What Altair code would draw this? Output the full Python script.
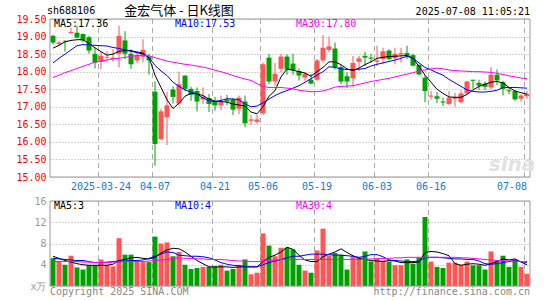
import altair as alt
import pandas as pd

# ---------------- data ----------------
dates = [
    "2025-03-12", "2025-03-13", "2025-03-14", "2025-03-17", "2025-03-18", "2025-03-19", "2025-03-20", "2025-03-21",
    "2025-03-24", "2025-03-25", "2025-03-26", "2025-03-27", "2025-03-28", "2025-03-31",
    "2025-04-01", "2025-04-02", "2025-04-03", "2025-04-07", "2025-04-08", "2025-04-09", "2025-04-10", "2025-04-11",
    "2025-04-14", "2025-04-15", "2025-04-16", "2025-04-17", "2025-04-18", "2025-04-21", "2025-04-22", "2025-04-23",
    "2025-04-24", "2025-04-25", "2025-04-28", "2025-04-29", "2025-04-30",
    "2025-05-06", "2025-05-07", "2025-05-08", "2025-05-09", "2025-05-12", "2025-05-13", "2025-05-14", "2025-05-15",
    "2025-05-16", "2025-05-19", "2025-05-20", "2025-05-21", "2025-05-22", "2025-05-23", "2025-05-26", "2025-05-27",
    "2025-05-28", "2025-05-29", "2025-05-30",
    "2025-06-03", "2025-06-04", "2025-06-05", "2025-06-06", "2025-06-09", "2025-06-10", "2025-06-11", "2025-06-12",
    "2025-06-13", "2025-06-16", "2025-06-17", "2025-06-18", "2025-06-19", "2025-06-20", "2025-06-23", "2025-06-24",
    "2025-06-25", "2025-06-26", "2025-06-27", "2025-06-30",
    "2025-07-01", "2025-07-02", "2025-07-03", "2025-07-04", "2025-07-07", "2025-07-08",
]

opens = [19.02, 18.79, 18.88, 19.10, 19.11, 19.07, 18.98, 18.51, 18.28, 18.40,
         18.36, 18.51, 18.89, 18.51, 18.32, 18.42, 18.42, 17.43, 16.08, 16.70,
         17.49, 17.09, 17.89, 17.51, 17.45, 17.21, 17.25, 17.15, 17.04, 17.21,
         17.21, 16.94, 17.15, 16.60, 16.57, 16.81, 18.40, 17.72, 18.08, 18.43,
         18.23, 18.02, 17.83, 17.77, 17.77, 18.32, 18.62, 18.66, 18.13, 17.87,
         17.81, 18.28, 18.45, 18.40, 18.28, 18.36, 18.60, 18.38, 18.49, 18.53,
         18.47, 18.19, 17.83, 17.29, 17.30, 17.15, 17.08, 17.23, 17.13, 17.38,
         17.77, 17.68, 17.66, 17.55, 17.91, 17.70, 17.47, 17.45, 17.23, 17.30]
highs = [19.05, 18.88, 18.89, 19.25, 19.30, 19.09, 19.02, 18.68, 18.58, 18.58,
         18.64, 19.31, 19.15, 18.64, 18.58, 18.92, 18.51, 17.72, 16.94, 17.43,
         17.58, 18.00, 17.89, 17.57, 17.55, 17.55, 17.36, 17.28, 17.32, 17.34,
         17.25, 17.32, 17.32, 16.77, 16.77, 18.26, 18.51, 18.25, 18.51, 18.49,
         18.51, 18.09, 17.98, 17.94, 18.36, 19.04, 19.00, 18.83, 18.19, 17.98,
         18.45, 18.45, 18.57, 18.51, 18.74, 18.68, 18.64, 18.68, 18.68, 18.74,
         18.51, 18.21, 17.89, 17.45, 17.42, 17.26, 17.45, 17.40, 17.47, 17.74,
         17.77, 17.77, 17.72, 18.13, 18.06, 17.74, 17.55, 17.47, 17.36, 17.45]
lows = [18.78, 18.74, 18.57, 19.08, 18.95, 18.83, 18.51, 18.09, 18.06, 18.32,
        18.28, 18.12, 18.36, 18.08, 18.25, 18.26, 17.92, 15.32, 16.05, 15.91,
        17.09, 17.04, 17.45, 17.17, 16.87, 17.08, 16.85, 16.89, 16.91, 17.04,
        16.77, 16.79, 16.42, 16.49, 16.51, 16.77, 17.64, 17.60, 17.98, 17.91,
        17.91, 17.75, 17.74, 17.64, 17.74, 18.26, 18.55, 18.06, 17.64, 17.53,
        17.57, 18.02, 18.17, 18.26, 18.17, 18.21, 18.32, 18.21, 18.26, 18.36,
        18.15, 17.90, 17.13, 17.21, 17.11, 17.02, 17.04, 17.00, 17.09, 17.36,
        17.51, 17.49, 17.47, 17.51, 17.62, 17.32, 17.36, 17.17, 17.15, 17.23]
closes = [18.83, 18.83, 18.86, 19.13, 18.97, 18.89, 18.60, 18.26, 18.45, 18.42,
          18.40, 19.02, 18.51, 18.21, 18.47, 18.62, 18.32, 15.94, 16.87, 17.04,
          17.28, 17.64, 17.51, 17.34, 17.15, 17.28, 17.08, 17.04, 17.13, 17.15,
          16.92, 17.26, 16.53, 16.64, 16.64, 18.21, 17.72, 17.94, 18.43, 18.06,
          18.04, 17.89, 17.94, 17.66, 18.32, 18.68, 18.72, 18.13, 17.72, 17.72,
          18.25, 18.38, 18.40, 18.37, 18.32, 18.58, 18.36, 18.51, 18.53, 18.45,
          18.17, 17.92, 17.45, 17.32, 17.23, 17.12, 17.26, 17.28, 17.38, 17.72,
          17.74, 17.60, 17.57, 17.91, 17.75, 17.51, 17.44, 17.21, 17.32, 17.36]

ma5 = [18.67, 18.75, 18.85, 18.89, 18.91, 18.91, 18.80, 18.68, 18.57, 18.47,
       18.50, 18.58, 18.60, 18.60, 18.56, 18.53, 18.40, 17.90, 17.55, 17.20,
       16.95, 17.10, 17.30, 17.38, 17.37, 17.32, 17.22, 17.16, 17.15, 17.13,
       17.08, 17.05, 17.02, 16.85, 16.80, 17.00, 17.30, 17.46, 17.85, 18.08,
       18.04, 18.00, 17.96, 17.87, 18.00, 18.12, 18.28, 18.28, 18.20, 18.08,
       18.03, 18.10, 18.20, 18.28, 18.38, 18.41, 18.43, 18.44, 18.45, 18.46,
       18.38, 18.15, 17.90, 17.70, 17.50, 17.38, 17.28, 17.27, 17.27, 17.35,
       17.48, 17.58, 17.64, 17.70, 17.72, 17.68, 17.55, 17.45, 17.40, 17.36]
ma10 = [18.25, 18.38, 18.50, 18.62, 18.74, 18.77, 18.76, 18.75, 18.74, 18.73,
        18.69, 18.66, 18.62, 18.58, 18.54, 18.50, 18.40, 18.18, 18.02, 17.89,
        17.70, 17.58, 17.48, 17.42, 17.37, 17.25, 17.17, 17.15, 17.18, 17.23,
        17.22, 17.20, 17.08, 17.00, 17.02, 17.11, 17.22, 17.32, 17.40, 17.46,
        17.53, 17.60, 17.70, 17.80, 17.90, 18.00, 18.14, 18.12, 18.08, 18.06,
        18.06, 18.07, 18.09, 18.16, 18.21, 18.25, 18.29, 18.33, 18.38, 18.44,
        18.38, 18.25, 18.12, 18.05, 17.97, 17.90, 17.78, 17.68, 17.58, 17.48,
        17.44, 17.42, 17.42, 17.44, 17.47, 17.55, 17.55, 17.55, 17.54, 17.53]
ma30 = [17.83, 17.90, 17.97, 18.03, 18.09, 18.15, 18.21, 18.27, 18.30, 18.33,
        18.36, 18.38, 18.41, 18.43, 18.46, 18.47, 18.45, 18.40, 18.35, 18.30,
        18.27, 18.24, 18.21, 18.19, 18.16, 18.13, 18.09, 18.04, 18.00, 17.95,
        17.89, 17.84, 17.79, 17.75, 17.66, 17.58, 17.55, 17.55, 17.55, 17.53,
        17.51, 17.47, 17.45, 17.43, 17.43, 17.45, 17.50, 17.56, 17.58, 17.59,
        17.60, 17.64, 17.68, 17.72, 17.75, 17.78, 17.81, 17.85, 17.89, 17.93,
        17.97, 18.02, 18.05, 18.08, 18.10, 18.08, 18.05, 18.03, 18.02, 18.01,
        18.00, 18.00, 17.99, 17.98, 17.95, 17.92, 17.88, 17.85, 17.82, 17.80]

volumes = [5.2, 4.6, 4.0, 5.7, 3.5, 3.1, 3.9, 3.9, 5.0, 4.0,
           3.7, 9.0, 5.9, 5.9, 4.6, 4.5, 4.5, 9.3, 8.0, 8.2,
           5.6, 6.4, 4.0, 3.2, 3.4, 3.6, 3.6, 3.7, 4.0, 2.9,
           3.2, 4.0, 5.0, 2.2, 2.5, 9.9, 7.6, 5.6, 7.2, 7.2,
           6.9, 4.0, 2.9, 2.5, 6.7, 10.8, 5.7, 6.2, 5.9, 3.1,
           5.6, 5.4, 6.5, 4.6, 5.2, 4.8, 4.6, 3.9, 3.9, 5.0,
           4.2, 5.4, 13.0, 4.6, 3.6, 3.4, 4.4, 4.4, 4.0, 4.6,
           3.9, 3.9, 3.1, 6.5, 4.8, 5.7, 3.6, 5.0, 3.6, 2.3]
vma5 = [5.6, 5.2, 4.8, 4.5, 4.2, 4.0, 3.9, 3.9, 3.9, 3.9,
        4.1, 4.8, 5.0, 5.3, 5.4, 5.2, 5.1, 5.4, 6.2, 6.8,
        7.1, 7.0, 6.4, 5.6, 4.8, 4.2, 3.6, 3.6, 3.6, 3.6,
        3.5, 3.6, 3.6, 3.6, 3.6, 4.6, 5.4, 5.8, 6.4, 7.3,
        6.9, 5.8, 4.9, 4.6, 4.6, 5.5, 6.0, 6.4, 7.0, 6.3,
        5.7, 5.2, 5.0, 4.8, 4.7, 4.6, 4.8, 4.7, 4.4, 4.4,
        4.4, 4.5, 6.3, 6.5, 6.4, 6.1, 5.7, 4.2, 3.9, 4.1,
        4.2, 4.1, 3.9, 4.2, 4.6, 5.1, 4.9, 5.1, 4.5, 4.0]
vma10 = [5.2, 5.1, 5.0, 4.9, 4.8, 4.8, 4.6, 4.4, 4.4, 4.5,
         4.6, 4.7, 4.7, 4.8, 4.8, 4.9, 5.2, 5.6, 6.0, 6.4,
         6.3, 5.8, 5.7, 5.6, 5.6, 5.5, 5.3, 4.9, 4.4, 4.1,
         3.9, 3.8, 3.7, 3.6, 3.6, 4.0, 4.4, 4.7, 5.0, 5.3,
         5.6, 5.6, 5.8, 6.0, 6.0, 6.0, 5.9, 5.8, 5.8, 5.7,
         5.6, 5.4, 5.6, 5.9, 5.9, 5.5, 4.9, 4.8, 4.7, 4.6,
         4.6, 4.7, 5.3, 5.4, 5.4, 5.3, 5.2, 5.1, 5.1, 5.0,
         5.0, 4.7, 4.2, 4.1, 4.2, 4.4, 4.6, 4.8, 4.6, 4.4]
vma30 = [4.6, 4.6, 4.6, 4.6, 4.6, 4.5, 4.5, 4.4, 4.4, 4.4,
         4.5, 4.5, 4.6, 4.6, 4.6, 4.6, 4.7, 4.8, 4.9, 5.0,
         5.2, 5.3, 5.2, 5.2, 5.1, 5.1, 5.0, 5.0, 5.0, 4.9,
         4.8, 4.7, 4.7, 4.6, 4.6, 4.7, 4.8, 4.9, 5.0, 5.0,
         5.0, 5.0, 5.0, 5.0, 5.0, 5.0, 5.0, 5.0, 5.0, 5.0,
         5.0, 5.0, 5.0, 5.1, 5.1, 5.2, 5.2, 5.3, 5.3, 5.4,
         5.4, 5.4, 5.4, 5.4, 5.4, 5.4, 5.4, 5.4, 5.3, 5.3,
         5.2, 5.1, 5.0, 4.9, 4.8, 4.8, 4.7, 4.7, 4.6, 4.6]

tick_dates = ["2025-03-24", "2025-04-07", "2025-04-21", "2025-05-06",
              "2025-05-19", "2025-06-03", "2025-06-16", "2025-07-08"]
tick_labels = ["2025-03-24", "04-07", "04-21", "05-06", "05-19", "06-03", "06-16", "07-08"]
price_ticks = [15.0, 15.5, 16.0, 16.5, 17.0, 17.5, 18.0, 18.5, 19.0, 19.5]
vol_ticks = [0, 4, 8, 12, 16]
price_domain = [15.0, 19.5]
vol_domain = [0, 16]

symbol = "sh688106"
title_text = "金宏气体 - 日K线图"
timestamp = "2025-07-08 11:05:21"
ma_labels = ["MA5:17.36", "MA10:17.53", "MA30:17.80"]
vma_labels = ["MA5:3", "MA10:4", "MA30:4"]
vol_unit = "x万"
copyright_text = "Copyright 2025 SINA.COM"
url_text = "http://finance.sina.com.cn"
watermark = "sina"

# ---------------- styling ----------------
RED = "#ff5555"
GREEN = "#00a000"
BLUE_LINE = "#0000ff"
MAGENTA = "#ff00ff"
GRID = "#aaaaaa"
FRAME = "#999999"
MONO = "DejaVu Sans Mono"
CJK = "Noto Sans CJK SC"
W, H = 480, 267
PRICE_RANGE = [158, 0]
VOL_RANGE = [267, 182]

df = pd.DataFrame({
    "date": dates, "open": opens, "high": highs, "low": lows, "close": closes,
    "vol": volumes, "ma5": ma5, "ma10": ma10, "ma30": ma30,
    "vma5": vma5, "vma10": vma10, "vma30": vma30,
})
df["dir"] = ["up" if c >= o else "down" for o, c in zip(opens, closes)]

xs = alt.Scale(domain=dates, paddingInner=1 / 6, paddingOuter=1 / 12)
label_expr = ("[" + ",".join(f"'{l}'" for l in tick_labels) + "][indexof(["
              + ",".join(f"'{d}'" for d in tick_dates) + "], datum.value)]")
last_tick = tick_dates[-1]
x_axis = alt.Axis(values=tick_dates, labelExpr=label_expr, orient="bottom", offset=-(H - PRICE_RANGE[0]),
                  domain=False, ticks=False, tickSize=0, labelPadding=4, labelFont=MONO, labelFontSize=10,
                  labelColor="#1478d2", labelAngle=0, title=None, grid=False, bandPosition=0,
                  labelOverlap=False, labelFlush=False,
                  labelAlign={"condition": {"test": f"datum.value == '{last_tick}'", "value": "right"},
                              "value": "center"})
X = alt.X("date:O", scale=xs, axis=x_axis)
Xedge = alt.X("date:O", scale=xs, axis=x_axis, bandPosition=0)

PS = alt.Scale(domain=price_domain, range=PRICE_RANGE, nice=False, zero=False)
VS = alt.Scale(domain=vol_domain, range=VOL_RANGE, nice=False, zero=True)

color = alt.Color("dir:N", scale=alt.Scale(domain=["up", "down"], range=[RED, GREEN]), legend=None)

price_axis = alt.Axis(values=price_ticks, format=".2f", orient="left", grid=True, gridColor=GRID,
                      gridDash=[1, 2], gridWidth=1, domain=False, ticks=False, tickSize=0, labelPadding=4,
                      labelColor="#ff0000", labelFont=MONO, labelFontSize=10, labelFlush=False,
                      labelOverlap=False, title=None)
vol_axis = alt.Axis(values=vol_ticks, orient="left", grid=True, gridColor=GRID, gridDash=[1, 2], gridWidth=1,
                    domain=False, ticks=False, tickSize=0, labelPadding=4, labelColor="#999999",
                    labelFont=MONO, labelFontSize=10, labelFlush=False, labelOverlap=False, title=None,
                    labelExpr=f"datum.value == 0 ? '{vol_unit}' : datum.label")

base = alt.Chart(df)

wicks = base.mark_rule(strokeWidth=1).encode(
    x=X, y=alt.Y("low:Q", scale=PS, axis=price_axis), y2="high:Q", color=color)
bodies = base.mark_bar().encode(
    x=X, y=alt.Y("open:Q", scale=PS, axis=None), y2="close:Q", color=color)


def ma_line(field, col, scale):
    return base.mark_line(color=col, strokeWidth=1).encode(
        x=X, y=alt.Y(f"{field}:Q", scale=scale, axis=None))


vbars = base.mark_bar().encode(
    x=X, y=alt.Y("vol:Q", scale=VS, axis=vol_axis), color=color)

vg = pd.DataFrame({"date": tick_dates, "ptop": price_domain[1], "pbot": price_domain[0],
                   "vtop": vol_domain[1], "vbot": vol_domain[0]})
vgrid_p = alt.Chart(vg).mark_rule(color=GRID, strokeDash=[5, 4], strokeWidth=1).encode(
    x=Xedge, y=alt.Y("ptop:Q", scale=PS, axis=None), y2="pbot:Q")
vgrid_v = alt.Chart(vg).mark_rule(color=GRID, strokeDash=[5, 4], strokeWidth=1).encode(
    x=Xedge, y=alt.Y("vtop:Q", scale=VS, axis=None), y2="vbot:Q")

frames_src = pd.DataFrame({"ptop": [price_domain[1]], "pbot": [price_domain[0]],
                           "vtop": [vol_domain[1]], "vbot": [vol_domain[0]]})
frame_p = alt.Chart(frames_src).mark_rect(fillOpacity=0, stroke=FRAME, strokeWidth=1).encode(
    x=alt.value(0), x2=alt.value(W), y=alt.Y("ptop:Q", scale=PS, axis=None), y2="pbot:Q")
frame_v = alt.Chart(frames_src).mark_rect(fillOpacity=0, stroke=FRAME, strokeWidth=1).encode(
    x=alt.value(0), x2=alt.value(W), y=alt.Y("vtop:Q", scale=VS, axis=None), y2="vbot:Q")


def label(text, x, y, col="#000000", align="left", font=MONO, size=10, **kw):
    return alt.Chart(pd.DataFrame({"t": [text]})).mark_text(
        align=align, baseline="middle", color=col, font=font, fontSize=size, **kw
    ).encode(x=alt.value(x), y=alt.value(y), text="t:N")


texts = [
    label(symbol, -3, -8),
    label(title_text, 129, -8, align="center", font=CJK, size=13),
    label(timestamp, 480, -7, align="right"),
    label(ma_labels[0], 4, 5),
    label(ma_labels[1], 125, 5, col=BLUE_LINE),
    label(ma_labels[2], 246, 5, col=MAGENTA),
    label(vma_labels[0], 4, 187),
    label(vma_labels[1], 125, 187, col=BLUE_LINE),
    label(vma_labels[2], 246, 187, col=MAGENTA),
    label(copyright_text, 0, 273, col="#888888"),
    label(url_text, 480, 273, col="#888888", align="right"),
    label(watermark, 462, 146, col="#e2e2e2", align="center", font="DejaVu Sans", size=20,
          fontStyle="italic", fontWeight="bold"),
]

layers = [vgrid_p, vgrid_v, wicks, bodies,
          ma_line("ma5", "#000000", PS), ma_line("ma10", BLUE_LINE, PS), ma_line("ma30", MAGENTA, PS),
          vbars,
          ma_line("vma5", "#000000", VS), ma_line("vma10", BLUE_LINE, VS), ma_line("vma30", MAGENTA, VS),
          frame_p, frame_v] + texts

chart = alt.layer(*layers).resolve_scale(y="independent").properties(
    width=W, height=H,
    autosize=alt.AutoSizeParams(type="none"),
    padding={"left": 50, "top": 19, "right": 15, "bottom": 14},
    background="#ffffff",
).configure_view(stroke=None)

chart.save("out.html", embed_options={"renderer": "svg", "actions": False})
